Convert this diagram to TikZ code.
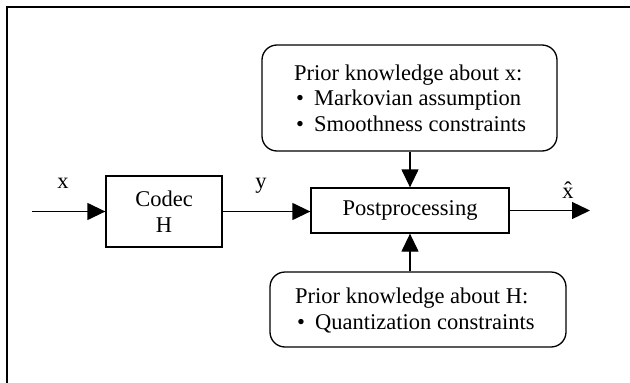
\documentclass[tikz,border=0pt]{standalone}
\usepackage{fontspec}
\setmainfont{Liberation Serif}
\usetikzlibrary{arrows.meta}
\begin{document}
\begin{tikzpicture}[x=1pt,y=-1pt,
  blk/.style={draw, line width=1.3pt, inner sep=0pt},
  rbox/.style={blk, rounded corners=15pt},
  txt/.style={font=\fontsize{22.5}{25.5}\selectfont, inner sep=0pt},
  conn/.style={line width=1.3pt, -{Triangle[length=18pt,width=17pt]}}]
\useasboundingbox (0,0) rectangle (630,383);
% frame
\draw[line width=1.3pt] (7,383) -- (7,7) -- (630,7);
% boxes
\node[rbox, minimum width=295pt, minimum height=106pt] (kx) at (409.5,98) {};
\node[txt, anchor=west, align=left] (kxt) at (294,98)
  {Prior knowledge about x:\\
   \hspace{2pt}\makebox[18pt][l]{•}Markovian assumption\\
   \hspace{2pt}\makebox[18pt][l]{•}Smoothness constraints};
\node[rbox, minimum width=296pt, minimum height=75pt] (kh) at (418,309.5) {};
\node[txt, anchor=west, align=left] (kht) at (295,310.5)
  {Prior knowledge about H:\\
   \hspace{2pt}\makebox[18pt][l]{•}Quantization constraints};
\node[blk, txt, minimum width=116pt, minimum height=71pt, align=center] (codec) at (164,211.5) {Codec\\H};
\node[blk, txt, minimum width=198pt, minimum height=45pt] (post) at (410,210.5) {Postprocessing};
% connectors
\coordinate (in) at (32,211.5);
\coordinate (out) at (590,210.5);
\draw[conn] (in) -- (codec.west);
\draw[conn] (codec.east) -- (codec.east -| post.west);
\draw[conn] (post.north |- kx.south) -- (post.north);
\draw[conn] (post.south |- kh.north) -- (post.south);
\draw[conn] (post.east) -- (out);
% labels
\node[txt, anchor=base] (lx) at (63,188) {x};
\node[txt, anchor=base] (ly) at (261,188) {y};
\node[txt, anchor=base] (lxh) at (568,198) {x^^^^0302};
\end{tikzpicture}
\end{document}
